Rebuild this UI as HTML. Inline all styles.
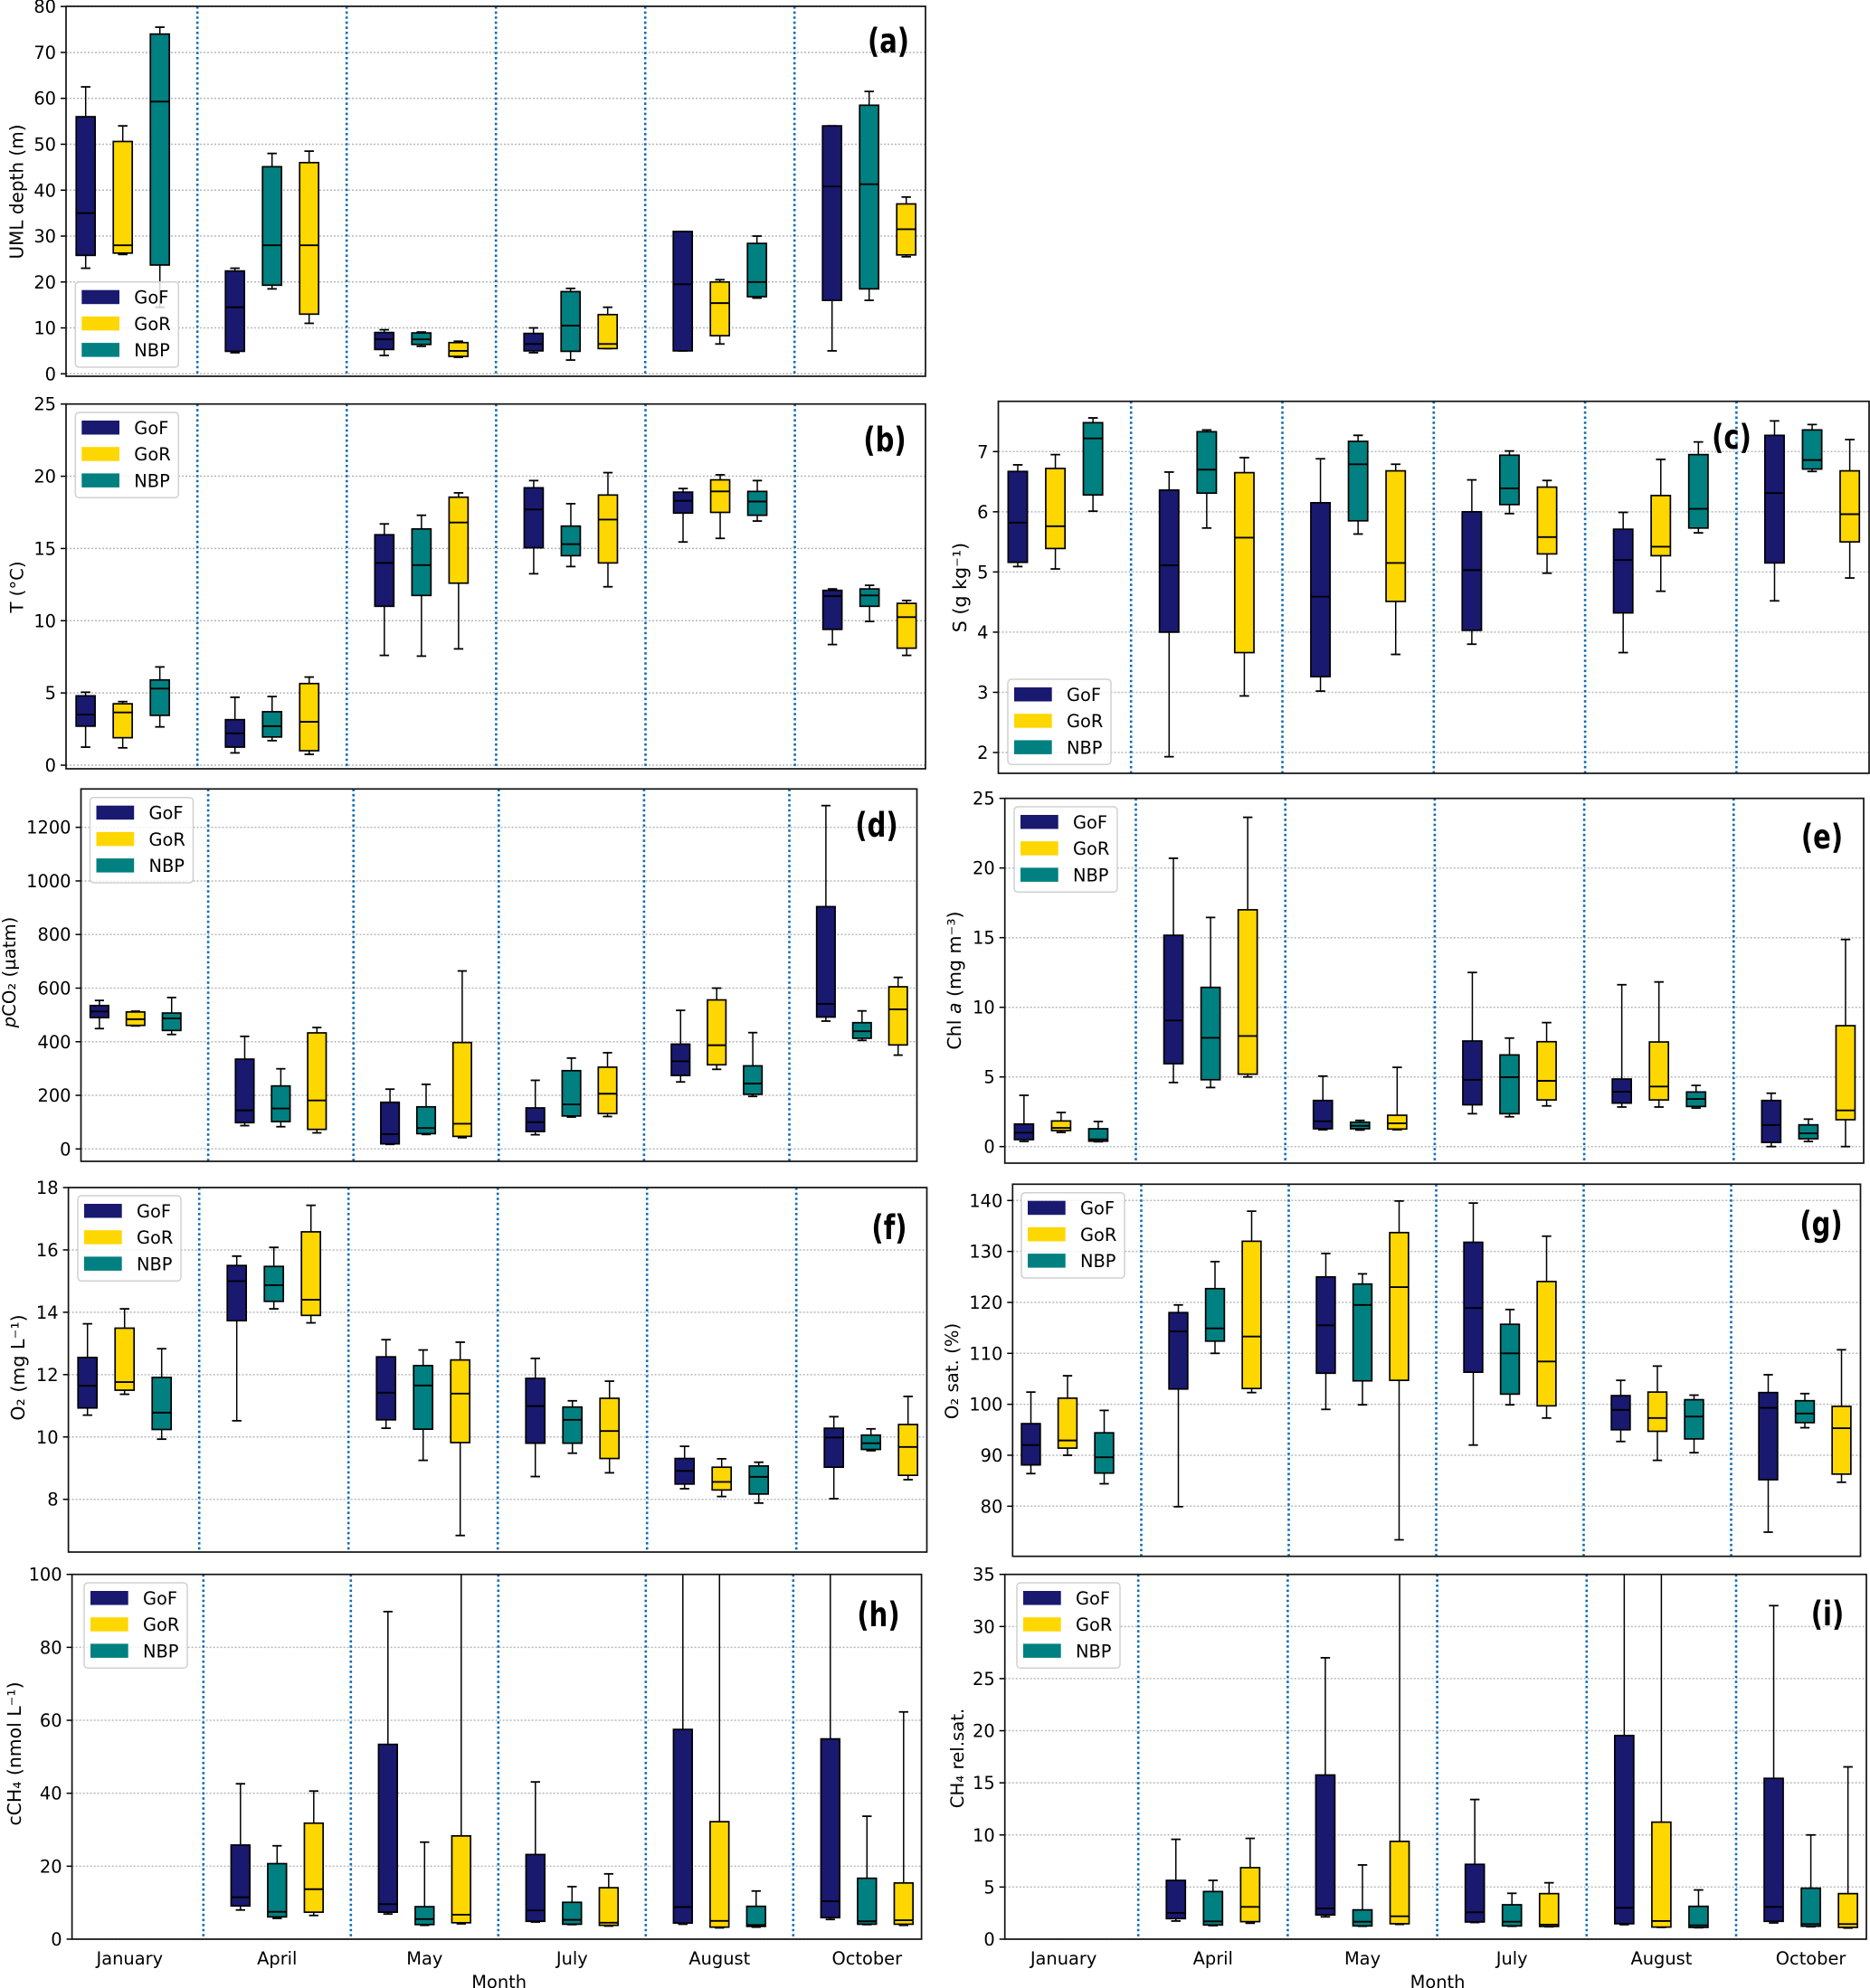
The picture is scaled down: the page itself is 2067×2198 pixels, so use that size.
<!DOCTYPE html>
<html lang="en">
<head>
<meta charset="utf-8">
<title>Monthly box plots of water properties</title>
<style>
html,body{margin:0;padding:0;background:#fff;}
svg{display:block;font-family:"DejaVu Sans","Liberation Sans",sans-serif;}
</style>
</head>
<body>
<svg id="figure" xmlns="http://www.w3.org/2000/svg" width="2067" height="2198" viewBox="0 0 2067 2198"></svg>
<script>
const months = ['January','April','May','July','August','October'];
const seriesNames = ['GoF','GoR','NBP'];
const seriesColors = {GoF:'#191970',GoR:'#FFD700',NBP:'#008080'};
const monthOrder = [
  ['GoF','GoR','NBP'],['GoF','NBP','GoR'],['GoF','NBP','GoR'],
  ['GoF','NBP','GoR'],['GoF','GoR','NBP'],['GoF','NBP','GoR']
];

/* each row: low whisker, Q1, median, Q3, high whisker; one row per month */
const umlGoF = [[23,25.8,35,56,62.5],[4.6,4.9,14.5,22.4,23],[4,5.3,7.5,9,9.6],[4.6,5,6.5,8.8,10],[5,5,19.5,31,31],[5,16,40.8,54,54]];
const umlGoR = [[26,26.3,28,50.6,54],[11,13,28,46,48.5],[3.6,3.8,5,6.8,7.1],[5.5,5.5,6.5,12.9,14.5],[6.5,8.3,15.4,20,20.5],[25.5,25.9,31.5,37,38.5]];
const umlNBP = [[14.5,23.7,59.3,74,75.5],[18.5,19.3,28,45.1,48],[6,6.4,7.5,8.9,9.1],[3,4.9,10.5,17.9,18.6],[16.5,16.8,20,28.4,30],[16,18.5,41.3,58.5,61.5]];

const tempGoF = [[1.25,2.7,3.5,4.8,5.05],[.85,1.25,2.2,3.15,4.7],[7.6,11,14,15.95,16.7],[13.25,15.05,17.7,19.2,19.7],[15.45,17.45,18.3,18.9,19.15],[8.35,9.4,11.7,12.1,12.2]];
const tempGoR = [[1.2,1.9,3.65,4.25,4.4],[.75,1,3,5.65,6.1],[8.05,12.6,16.8,18.55,18.85],[12.35,14,17,18.7,20.25],[15.7,17.5,18.95,19.75,20.1],[7.6,8.1,10.25,11.2,11.4]];
const tempNBP = [[2.65,3.45,5.3,5.9,6.8],[1.7,1.95,2.7,3.7,4.75],[7.55,11.75,13.85,16.35,17.3],[13.75,14.5,15.3,16.55,18.1],[16.9,17.3,18.25,18.95,19.7],[9.95,11,11.75,12.2,12.45]];

const salGoF = [[5.09,5.16,5.82,6.67,6.78],[1.93,4,5.11,6.36,6.66],[3.02,3.26,4.59,6.15,6.88],[3.8,4.03,5.03,6,6.53],[3.66,4.32,5.2,5.71,5.99],[4.52,5.15,6.31,7.27,7.51]];
const salGoR = [[5.05,5.39,5.76,6.72,6.95],[2.94,3.66,5.57,6.65,6.9],[3.63,4.51,5.15,6.68,6.79],[4.98,5.3,5.58,6.41,6.52],[4.68,5.27,5.42,6.27,6.87],[4.9,5.5,5.96,6.68,7.2]];
const salNBP = [[6.01,6.28,7.22,7.48,7.56],[5.73,6.31,6.7,7.33,7.36],[5.63,5.85,6.79,7.17,7.27],[5.97,6.12,6.39,6.94,7.01],[5.65,5.73,6.05,6.95,7.16],[6.67,6.71,6.86,7.36,7.45]];

const pco2GoF = [[449,490,513,535,554],[87,98,144,335,420],[17,19,55,174,223],[53,65,100,153,256],[250,274,327,391,517],[477,492,541,904,1281]];
const pco2GoR = [[459,461,484,511,514],[60,73,181,433,453],[42,47,94,397,664],[121,132,206,305,359],[297,314,387,556,600],[350,388,521,605,640]];
const pco2NBP = [[427,442,487,507,565],[83,102,151,235,299],[54,57,78,157,241],[119,123,166,292,339],[196,204,244,310,434],[405,413,439,471,515]];

const chlGoF = [[.37,.5,1,1.62,3.68],[4.6,5.95,9.05,15.17,20.7],[1.21,1.28,1.82,3.31,5.06],[2.36,3,4.8,7.58,12.5],[2.84,3.12,3.94,4.85,11.62],[0,.3,1.54,3.31,3.83]];
const chlGoR = [[1.02,1.15,1.34,1.84,2.45],[5,5.2,7.94,17,23.64],[1.21,1.26,1.67,2.25,5.69],[2.92,3.35,4.72,7.53,8.9],[2.84,3.35,4.31,7.51,11.82],[0,1.93,2.6,8.68,14.87]];
const chlNBP = [[.35,.39,.52,1.28,1.8],[4.24,4.8,7.81,11.43,16.45],[1.19,1.28,1.49,1.75,1.88],[2.14,2.36,4.98,6.58,7.79],[2.77,2.88,3.42,3.92,4.39],[.37,.56,.95,1.56,1.97]];

const o2GoF = [[10.7,10.93,11.64,12.55,13.63],[10.52,13.73,15,15.5,15.8],[10.28,10.55,11.42,12.57,13.12],[8.73,9.8,10.99,11.88,12.52],[8.34,8.49,8.91,9.31,9.7],[8.02,9.03,9.98,10.28,10.65]];
const o2GoR = [[11.37,11.5,11.76,13.49,14.11],[13.66,13.9,14.4,16.58,17.43],[6.84,9.82,11.39,12.47,13.04],[8.85,9.31,10.19,11.24,11.79],[8.09,8.3,8.56,9.03,9.3],[8.63,8.77,9.68,10.4,11.3]];
const o2NBP = [[9.93,10.24,10.78,11.91,12.83],[14.11,14.35,14.87,15.47,16.08],[9.25,10.25,11.65,12.29,12.79],[9.48,9.8,10.55,10.96,11.16],[7.88,8.17,8.72,9.07,9.19],[9.56,9.6,9.8,10.06,10.26]];

const o2satGoF = [[86.4,88.1,92,96.2,102.4],[79.9,103,114.3,118,119.5],[99,106.1,115.5,125,129.6],[92,106.3,118.9,131.8,139.5],[92.7,95,98.9,101.7,104.7],[74.9,85.2,99.3,102.3,105.8]];
const o2satGoR = [[90,91.4,92.9,101.2,105.6],[102.3,103.1,113.3,132,137.9],[73.4,104.7,123,133.7,139.9],[97.3,99.7,108.4,124.1,133],[89,94.7,97.3,102.4,107.5],[84.7,86.3,95.3,99.6,110.7]];
const o2satNBP = [[84.4,86.5,89.6,94.4,98.8],[110,112.4,114.9,122.7,128],[99.9,104.6,119.5,123.6,125.6],[99.9,102,110,115.7,118.6],[90.5,93.2,97.6,100.9,101.8],[95.4,96.4,98.2,100.7,102.1]];

const ch4GoF = [null,[8,9.1,11.5,25.8,42.6],[6.9,7.4,9.6,53.4,89.8],[4.7,4.9,7.9,23.2,43.1],[4.1,4.4,8.8,57.5,130],[5.4,5.9,10.4,54.9,130]];
const ch4GoR = [null,[6.5,7.4,13.7,31.8,40.6],[4.2,4.5,6.7,28.3,130],[3.6,3.8,4.5,14.1,17.9],[3.1,3.3,5,32.2,130],[3.8,4.1,5.2,15.4,62.3]];
const ch4NBP = [null,[5.7,6.1,7.5,20.7,25.6],[3.8,4,5.5,8.9,26.6],[4,4.1,5.3,10.1,14.4],[3.3,3.5,3.9,9,13.2],[4,4.1,4.9,16.7,33.7]];

const ch4satGoF = [null,[1.74,1.97,2.52,5.64,9.58],[2.14,2.32,2.95,15.75,27],[1.6,1.65,2.58,7.18,13.4],[1.39,1.48,3.01,19.54,45],[1.56,1.71,3.1,15.43,32]];
const ch4satGoR = [null,[1.53,1.68,3.1,6.86,9.67],[1.42,1.48,2.2,9.38,45],[1.19,1.22,1.39,4.37,5.41],[1.13,1.16,1.74,11.23,45],[1.07,1.13,1.45,4.37,16.53]];
const ch4satNBP = [null,[1.3,1.36,1.71,4.57,5.64],[1.24,1.27,1.68,2.81,7.12],[1.24,1.27,1.68,3.3,4.4],[1.1,1.13,1.33,3.15,4.72],[1.19,1.24,1.45,4.89,10]];

const umlTicks = [0,10,20,30,40,50,60,70,80];
const tempTicks = [0,5,10,15,20,25];
const salTicks = [2,3,4,5,6,7];
const pco2Ticks = [0,200,400,600,800,1000,1200];
const chlTicks = [0,5,10,15,20,25];
const o2Ticks = [8,10,12,14,16,18];
const o2satTicks = [80,90,100,110,120,130,140];
const ch4Ticks = [0,20,40,60,80,100];
const ch4satTicks = [0,5,10,15,20,25,30,35];

const panels = [
 {id:'a',GoF:umlGoF,GoR:umlGoR,NBP:umlNBP,ticks:umlTicks,L:73,R:1023,T:7,B:416,firstDiv:218.2,step:165,vLo:0,pLo:413.3,vHi:80,pHi:7.2,ylabel:[['UML depth (m)']],ysize:20,yx:18.5,yy:212,leg:[83.3,311.7],tag:[982,46]},
 {id:'b',GoF:tempGoF,GoR:tempGoR,NBP:tempNBP,ticks:tempTicks,L:73,R:1023,T:446.7,B:850,firstDiv:218.2,step:165.1,vLo:0,pLo:846,vHi:25,pHi:446.7,ylabel:[['T (°C)']],ysize:19.7,yx:18.5,yy:649,leg:[83.3,456],tag:[978,487]},
 {id:'c',GoF:salGoF,GoR:salGoR,NBP:salNBP,ticks:salTicks,L:1103.5,R:2066,T:443.7,B:855,firstDiv:1250.2,step:167.3,vLo:2,pLo:832,vHi:7,pHi:499.3,ylabel:[['S (g kg⁻¹)']],ysize:20.6,yx:1061,yy:649.5,leg:[1114,751],tag:[1914,484]},
 {id:'d',GoF:pco2GoF,GoR:pco2GoR,NBP:pco2NBP,ticks:pco2Ticks,L:89.5,R:1013.5,T:872.3,B:1284,firstDiv:230.1,step:160.6,vLo:0,pLo:1270.3,vHi:1200,pHi:914.7,ylabel:[['p','italic'],['CO₂ (µatm)']],ysize:19.7,yx:10,yy:1075,leg:[99.5,881.7],tag:[969,913]},
 {id:'e',GoF:chlGoF,GoR:chlGoR,NBP:chlNBP,ticks:chlTicks,L:1110.7,R:2060,T:882.7,B:1286,firstDiv:1255.5,step:165.2,vLo:0,pLo:1267.7,vHi:25,pHi:882.7,ylabel:[['Chl '],['a','italic'],[' (mg m⁻³)']],ysize:20.5,yx:1055,yy:1084,leg:[1121,892],tag:[2014,926]},
 {id:'f',GoF:o2GoF,GoR:o2GoR,NBP:o2NBP,ticks:o2Ticks,L:75.6,R:1024.5,T:1313,B:1716,firstDiv:220.2,step:165,vLo:8,pLo:1657.7,vHi:18,pHi:1313,ylabel:[['O₂ (mg L⁻¹)']],ysize:20.6,yx:20,yy:1512,leg:[86,1322],tag:[983,1358]},
 {id:'g',GoF:o2satGoF,GoR:o2satGoR,NBP:o2satNBP,ticks:o2satTicks,L:1119.3,R:2056.5,T:1309.3,B:1720.7,firstDiv:1261.5,step:163,vLo:80,pLo:1665.3,vHi:140,pHi:1327.3,ylabel:[['O₂ sat. (%)']],ysize:19.7,yx:1052,yy:1516,leg:[1129,1318.7],tag:[2013,1354]},
 {id:'h',GoF:ch4GoF,GoR:ch4GoR,NBP:ch4NBP,ticks:ch4Ticks,L:79.6,R:1018.6,T:1740.7,B:2144,firstDiv:224.8,step:163,vLo:0,pLo:2144,vHi:100,pHi:1740.7,ylabel:[['cCH₄ (nmol L⁻¹)']],ysize:20.4,yx:16,yy:1939,leg:[93,1750],tag:[971,1786],months:true,xtitle:[551.7,2191]},
 {id:'i',GoF:ch4satGoF,GoR:ch4satGoR,NBP:ch4satNBP,ticks:ch4satTicks,L:1110.7,R:2063,T:1740.7,B:2144,firstDiv:1258.2,step:165.2,vLo:0,pLo:2144,vHi:35,pHi:1740.7,ylabel:[['CH₄ rel.sat.']],ysize:19.7,yx:1058,yy:1944,leg:[1124,1750],tag:[2020,1785],months:true,xtitle:[1589,2191]}
];

const NS = 'http://www.w3.org/2000/svg';
const FONT = 19.4;
const root = document.getElementById('figure');

function make(parent, tag, props) {
  const el = document.createElementNS(NS, tag);
  for (const k in props) el.setAttribute(k, props[k]);
  parent.appendChild(el);
  return el;
}
function hline(parent, x1, x2, y, stroke, w) {
  return make(parent, 'line', {x1:x1, x2:x2, y1:y, y2:y, stroke:stroke, 'stroke-width':w});
}
function vline(parent, x, y1, y2, stroke, w) {
  return make(parent, 'line', {x1:x, x2:x, y1:y1, y2:y2, stroke:stroke, 'stroke-width':w});
}

panels.forEach(function (p) {
  const yScale = function (v) { return p.pLo + (v - p.vLo) * (p.pHi - p.pLo) / (p.vHi - p.vLo); };
  const divX = function (i) { return p.firstDiv + i * p.step; };
  const centerX = function (i) { return divX(i) - p.step / 2; };

  const g = make(root, 'g', {});
  
  

  const clip = make(g, 'clipPath', {id:'clip-' + p.id});
  make(clip, 'rect', {x:p.L, y:p.T, width:p.R - p.L, height:p.B - p.T});

  p.ticks.forEach(function (t) {
    const y = yScale(t);
    const grid = hline(g, p.L, p.R, y, '#b8b8b8', 1.5);
    grid.setAttribute('stroke-dasharray', '2 2');
    
    
    const tick = hline(g, p.L - 6, p.L, y, '#000', 1.5);
    
    
    const label = make(g, 'text', {x:p.L - 11, y:y + 7, 'text-anchor':'end', 'font-size':FONT, fill:'#000'});
    label.textContent = t;
    
    
  });

  for (let i = 0; i < months.length - 1; i++) {
    const div = vline(g, divX(i), p.T, p.B, '#0f6db5', 2.6);
    div.setAttribute('stroke-dasharray', '2.6 3');
    
    
  }

  const marks = make(g, 'g', {'clip-path':'url(#clip-' + p.id + ')'});
  
  
  const offset = p.step * 0.2485;
  const boxW = p.step * 0.127;
  const capW = boxW / 2;
  months.forEach(function (month, m) {
    monthOrder[m].forEach(function (name, slot) {
      const row = p[name][m];
      if (!row) return;
      const cx = centerX(m) + (slot - 1) * offset;
      const box = make(marks, 'g', {});
      
      
      vline(box, cx, yScale(row[0]), yScale(row[1]), '#000', 1.5);
      vline(box, cx, yScale(row[3]), yScale(row[4]), '#000', 1.5);
      hline(box, cx - capW / 2, cx + capW / 2, yScale(row[0]), '#000', 1.8);
      hline(box, cx - capW / 2, cx + capW / 2, yScale(row[4]), '#000', 1.8);
      make(box, 'rect', {x:cx - boxW / 2, y:yScale(row[3]), width:boxW, height:yScale(row[1]) - yScale(row[3]), fill:seriesColors[name], stroke:'#000', 'stroke-width':1.7});
      hline(box, cx - boxW / 2, cx + boxW / 2, yScale(row[2]), '#000', 1.9);
    });
  });

  const frame = make(g, 'rect', {x:p.L, y:p.T, width:p.R - p.L, height:p.B - p.T, fill:'none', stroke:'#111', 'stroke-width':1.7});
  
  

  const legend = make(g, 'g', {transform:'translate(' + p.leg[0] + ' ' + p.leg[1] + ')'});
  
  
  make(legend, 'rect', {x:0, y:0, width:114, height:94.3, rx:4, ry:4, fill:'#fff', 'fill-opacity':0.8, stroke:'#d0d0d0', 'stroke-width':1.5});
  seriesNames.forEach(function (name, i) {
    const entry = make(legend, 'g', {});
    
    
    make(entry, 'rect', {x:7, y:9 + i * 29.2, width:41.7, height:15.5, fill:seriesColors[name]});
    const txt = make(entry, 'text', {x:65, y:24 + i * 29.2, 'font-size':FONT, fill:'#000'});
    txt.textContent = name;
  });

  const yTitle = make(g, 'text', {transform:'translate(' + p.yx + ' ' + p.yy + ') rotate(-90)', 'text-anchor':'middle', 'font-size':p.ysize, y:7, fill:'#000'});
  p.ylabel.forEach(function (part) {
    const span = make(yTitle, 'tspan', {});
    span.textContent = part[0];
    if (part[1]) span.setAttribute('font-style', part[1]);
  });
  
  

  const tag = make(g, 'text', {transform:'translate(' + p.tag[0] + ' ' + p.tag[1] + ') scale(1 1.3)', y:9.1, 'text-anchor':'middle', 'font-size':29, 'font-weight':'bold', fill:'#000'});
  tag.textContent = '(' + p.id + ')';
  
  

  if (p.months) {
    months.forEach(function (month, m) {
      const t = make(g, 'text', {x:centerX(m), y:2172, 'text-anchor':'middle', 'font-size':FONT, fill:'#000'});
      t.textContent = month;
      
      
    });
    const xt = make(g, 'text', {x:p.xtitle[0], y:p.xtitle[1] + 7, 'text-anchor':'middle', 'font-size':FONT, fill:'#000'});
    xt.textContent = 'Month';
    
    
  }
});
</script>
</body>
</html>
